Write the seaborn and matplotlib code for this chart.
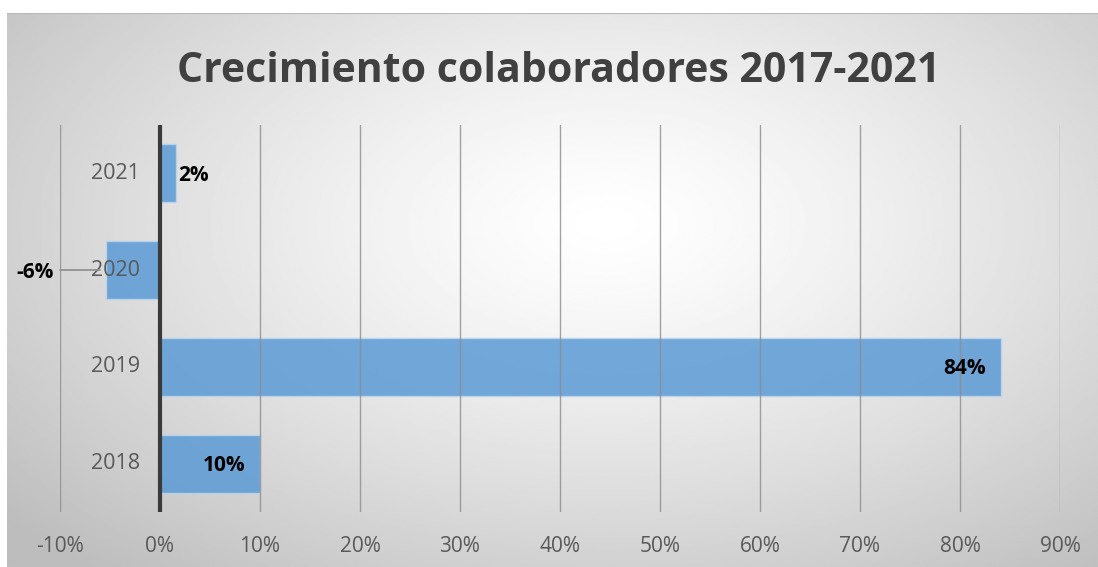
import numpy as np
import pandas as pd
import matplotlib
matplotlib.use("Agg")
import matplotlib.pyplot as plt
import seaborn as sns
from matplotlib.ticker import FuncFormatter

# datos
years = ["2021", "2020", "2019", "2018"]
growth = [1.6, -5.4, 84.1, 10.0]
labels_txt = ["2%", "-6%", "84%", "10%"]
x_ticks = [-10, 0, 10, 20, 30, 40, 50, 60, 70, 80, 90]

df = pd.DataFrame({"year": years, "growth": growth})

sns.set_theme(style="white")
plt.rcParams['font.family'] = ['Open Sans', 'DejaVu Sans']

W, H = 1098, 567
fig = plt.figure(figsize=(W / 100, H / 100), dpi=100)
fig.patch.set_facecolor("white")

# fondo con degradado radial
bg = fig.add_axes([7 / W, 0, 1 - 7 / W, (H - 13) / H], zorder=-5)
yy, xx = np.mgrid[0:1:300j, 0:1:600j]
r = np.sqrt(((xx - 0.55) / 0.75) ** 2 + ((yy - 0.62) / 0.85) ** 2)
shade = np.clip(1.0 - 0.27 * r ** 1.3, 0.74, 1.0)
bg.imshow(shade, cmap="gray", vmin=0, vmax=1, aspect="auto", origin="lower",
          extent=[0, 1, 0, 1], interpolation="bilinear")
bg.plot([0, 1], [1, 1], color="#b8b8b8", lw=1.5)
bg.set_xlim(0, 1)
bg.set_ylim(0, 1)
bg.axis("off")

ax = fig.add_axes([60 / W, 55 / H, 1000 / W, 387 / H])
ax.patch.set_alpha(0)

sns.barplot(data=df, x="growth", y="year", order=years, orient="h",
            color="#5b9bd5", saturation=1, width=0.6, ax=ax, zorder=2,
            edgecolor="#bcd6ee", linewidth=1)
for p in ax.patches:
    p.set_alpha(0.85)

ax.set_xlim(-10, 90)
ax.set_ylim(3.5, -0.5)
ax.set_xticks(x_ticks)
ax.xaxis.set_major_formatter(FuncFormatter(lambda v, _: f"{v:.0f}%"))
for v in x_ticks:
    if v != 0:
        ax.axvline(v, color="#8c8c8c", lw=1, zorder=3, alpha=0.8)
ax.axvline(0, color="#3a3a3a", lw=3, zorder=4)

for s in ax.spines.values():
    s.set_visible(False)
ax.set_xlabel("")
ax.set_ylabel("")
ax.tick_params(axis="x", length=0, pad=17, labelsize=15, labelcolor="#595959")
ax.set_yticks([])

# etiquetas de categoria junto al eje 0
for i, yr in enumerate(years):
    ax.text(-2.0, i, yr, ha="right", va="center", fontsize=15.5,
            color="#595959", zorder=5)

# etiquetas de datos
for i, (v, t) in enumerate(zip(growth, labels_txt)):
    if v >= 8:
        ax.text(v - 1.5, i + 0.02, t, ha="right", va="center", fontsize=15,
                fontweight="bold", color="black", zorder=6)
    elif v >= 0:
        ax.text(v + 0.2, i + 0.02, t, ha="left", va="center", fontsize=15,
                fontweight="bold", color="black", zorder=6)
    else:
        ax.text(-10.6, i + 0.02, t, ha="right", va="center", fontsize=15,
                fontweight="bold", color="black", zorder=6, clip_on=False)
        ax.plot([-10.0, -6.0], [i, i], color="#8c8c8c", lw=1.2, zorder=5,
                clip_on=False)

fig.text(559 / W, 1 - 72 / H, "Crecimiento colaboradores 2017-2021",
         ha="center", va="center", fontsize=29.5, fontweight="bold",
         color="#404040")

fig.savefig("out.png", dpi=100)
